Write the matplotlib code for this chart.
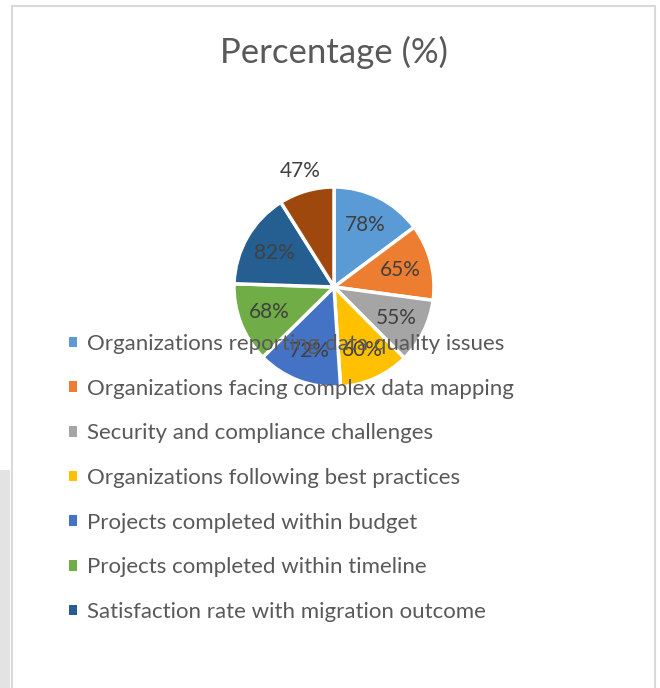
import matplotlib
matplotlib.use("Agg")
import matplotlib.pyplot as plt
from matplotlib.patches import Rectangle
import numpy as np

plt.rcParams['font.family'] = ['Lato', 'DejaVu Sans']

# data
categories = [
    "Organizations reporting data quality issues",
    "Organizations facing complex data mapping",
    "Security and compliance challenges",
    "Organizations following best practices",
    "Projects completed within budget",
    "Projects completed within timeline",
    "Satisfaction rate with migration outcome",
]
values = [78, 65, 55, 60, 72, 68, 82, 47]
colors = ["#5B9BD5", "#ED7D31", "#A5A5A5", "#FFC000",
          "#4472C4", "#70AD47", "#255E91", "#9E480E"]

W, H = 660, 688
fig = plt.figure(figsize=(W / 100, H / 100), dpi=100)

# chart border (bottom runs off the picture)
fig.patches.append(Rectangle((12 / W, -0.05), (655 - 12) / W, (H - 6) / H + 0.05,
                             transform=fig.transFigure, fill=False,
                             edgecolor="#D9D9D9", linewidth=1.5))
# grey strip of the page behind, on the left
fig.patches.append(Rectangle((0, 0), 10 / W, (H - 470) / H,
                             transform=fig.transFigure, facecolor="#E3E3E3",
                             edgecolor="none"))

fig.text(334 / W, 1 - 52 / H, "Percentage (%)", ha="center", va="center",
         fontsize=25, color="#595959")

# pie: centre (334, 287) px, radius 100 px
cx, cy, r = 334, 287, 100
ax = fig.add_axes([(cx - r) / W, (H - cy - r) / H, 2 * r / W, 2 * r / H])
wedges, _ = ax.pie(values, colors=colors, startangle=90, counterclock=False,
                   radius=1, wedgeprops=dict(edgecolor="white", linewidth=2.5))
ax.set_xlim(-1, 1)
ax.set_ylim(-1, 1)
ax.set_aspect("equal")
ax.axis("off")

smallest = int(np.argmin(values))
for i, (w, v) in enumerate(zip(wedges, values)):
    ang = np.deg2rad((w.theta1 + w.theta2) / 2)
    d = 1.21 if i == smallest else 0.69
    ax.text(d * np.cos(ang), d * np.sin(ang), f"{v}%", ha="center", va="center",
            fontsize=15, color="#404040", clip_on=False)

leg = fig.legend(wedges[:len(categories)], categories, loc="upper left",
                 bbox_to_anchor=(69 / W, 1 - 334 / H), frameon=False,
                 fontsize=16, labelcolor="#595959", handlelength=0.36,
                 handleheight=0.36, handletextpad=0.45, labelspacing=1.11,
                 borderpad=0, borderaxespad=0)
for h in leg.legend_handles:
    h.set_edgecolor("none")

fig.savefig("out.png", dpi=100)
